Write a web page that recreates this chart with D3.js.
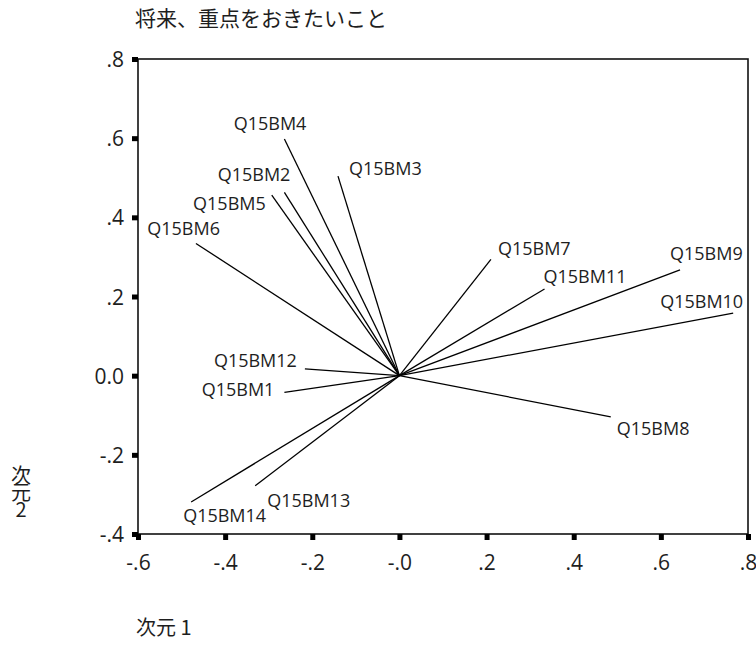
<!DOCTYPE html>
<html>
<head>
<meta charset="utf-8">
<script src="https://cdn.jsdelivr.net/npm/d3@7"></script>
<style>
  html, body { margin: 0; padding: 0; background: #fff; }
  svg text { fill: #1e1e1e; }
  .vtitle { writing-mode: vertical-rl; text-orientation: upright; }
</style>
</head>
<body>
<svg id="chart" width="756" height="646"></svg>
<script>
// Component loadings: dimension 1 (x) and dimension 2 (y) per variable
const variables = ["Q15BM1","Q15BM2","Q15BM3","Q15BM4","Q15BM5","Q15BM6","Q15BM7",
                   "Q15BM8","Q15BM9","Q15BM10","Q15BM11","Q15BM12","Q15BM13","Q15BM14"];
const dim1 = [-0.264,-0.264,-0.141,-0.264,-0.293,-0.467, 0.210, 0.485, 0.644, 0.766, 0.333,-0.217,-0.331,-0.478];
const dim2 = [-0.042, 0.463, 0.504, 0.598, 0.456, 0.334, 0.294,-0.104, 0.267, 0.158, 0.219, 0.017,-0.278,-0.319];
const origin = [0, 0];

const xTicks = [-0.6,-0.4,-0.2,0,0.2,0.4,0.6,0.8];
const xTickLabels = ["-.6","-.4","-.2","-.0",".2",".4",".6",".8"];
const yTicks = [-0.4,-0.2,0,0.2,0.4,0.6,0.8];
const yTickLabels = ["-.4","-.2","0.0",".2",".4",".6",".8"];

const chartTitle = "将来、重点をおきたいこと";
const xTitle = "次元 1";
const yTitle = "次元2";

// Label placement relative to each vector tip: [anchor, dx, dy]
const labelPlacement = [
  ["end",-10, 4], ["end", 6,-11], ["start",11,-1], ["end",22,-9],
  ["end",-6,15], ["end",24,-8], ["start",7,-4], ["start",6,18],
  ["start",-10,-10], ["end",10,-5], ["start",-1,-6], ["end",-8,-2],
  ["start",12,21], ["start",-8,20]
];

const svg = d3.select("#chart");
const font = "'Open Sans', 'Noto Sans', sans-serif";
const cjk = "'Noto Sans CJK JP', sans-serif";

const x = d3.scaleLinear().domain([-0.6, 0.8]).range([138, 748]);
const y = d3.scaleLinear().domain([-0.4, 0.8]).range([534, 59]);

// Plot frame
svg.append("rect")
  .attr("x", x(-0.6)).attr("y", y(0.8))
  .attr("width", x(0.8) - x(-0.6)).attr("height", y(-0.4) - y(0.8))
  .attr("fill", "none").attr("stroke", "#111").attr("stroke-width", 1.6);

// Axes with short heavy tick marks
const xAxis = d3.axisBottom(x).tickValues(xTicks)
  .tickFormat((d, i) => xTickLabels[i]).tickSizeInner(6).tickSizeOuter(0).tickPadding(12);
const yAxis = d3.axisLeft(y).tickValues(yTicks)
  .tickFormat((d, i) => yTickLabels[i]).tickSizeInner(6).tickSizeOuter(0).tickPadding(8);

const gx = svg.append("g").attr("transform", `translate(0,${y(-0.4)})`).call(xAxis);
const gy = svg.append("g").attr("transform", `translate(${x(-0.6)},0)`).call(yAxis);
[gx, gy].forEach(g => {
  g.select(".domain").remove();
  g.selectAll(".tick line").attr("stroke", "#000").attr("stroke-width", 5);
  g.selectAll(".tick text").attr("font-family", font).attr("font-size", 21)
    .attr("fill", "#1e1e1e");
});
gy.selectAll(".tick text").attr("dy", "0.36em");
gx.selectAll(".tick text").attr("dy", "0.85em");

// Vectors from the origin
const data = variables.map((v, i) => ({ name: v, x: dim1[i], y: dim2[i], p: labelPlacement[i] }));

svg.append("g").selectAll("line").data(data).join("line")
  .attr("x1", x(origin[0])).attr("y1", y(origin[1]))
  .attr("x2", d => x(d.x)).attr("y2", d => y(d.y))
  .attr("stroke", "#000").attr("stroke-width", 1.3);

svg.append("g").selectAll("text").data(data).join("text")
  .attr("x", d => x(d.x) + d.p[1]).attr("y", d => y(d.y) + d.p[2])
  .attr("text-anchor", d => d.p[0])
  .attr("font-family", font).attr("font-size", 18)
  .text(d => d.name);

// Titles
svg.append("text").attr("x", 135).attr("y", 26)
  .attr("font-family", cjk).attr("font-size", 21).text(chartTitle);

svg.append("text").attr("x", 136).attr("y", 635)
  .attr("font-family", cjk).attr("font-size", 20).text(xTitle);

svg.append("text").attr("class", "vtitle").attr("x", 21).attr("y", 465)
  .attr("font-family", cjk).attr("font-size", 20).attr("letter-spacing", -3)
  .text(yTitle);
</script>
</body>
</html>
